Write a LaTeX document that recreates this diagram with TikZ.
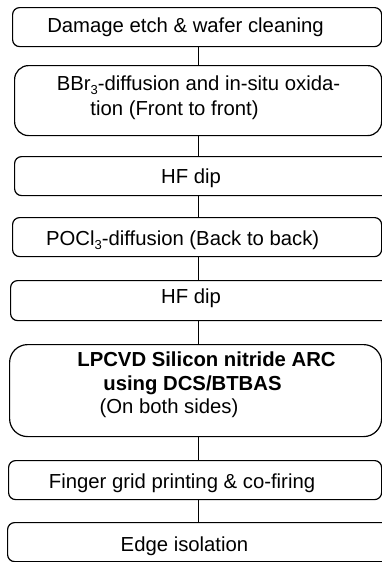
\documentclass[tikz,border=0pt]{standalone}
\usepackage{fontspec}
\setmainfont{Liberation Sans}
\newcommand{\lowidx}[1]{\raisebox{-0.22em}{\fontsize{13}{13}\selectfont #1}}
\tikzset{
  stepbox/.style={draw=black, line width=1.2pt, rectangle, rounded corners=7pt,
                  inner sep=0pt, anchor=north west},
  steptext/.style={inner sep=0pt, anchor=base, font=\fontsize{20.3}{24}\selectfont},
  link/.style={draw=black, line width=1.2pt}
}
\begin{document}
\begin{tikzpicture}[x=1pt, y=-1pt]
\useasboundingbox (0,0) rectangle (382,562);
\fill[white] (0,0) rectangle (382,562);
\clip (0,0) rectangle (382,562);

% process boxes
\node[stepbox, minimum width=369pt, minimum height=39pt] (b1) at (12,7) {};
\node[stepbox, rounded corners=14pt, minimum width=367pt, minimum height=70pt] (b2) at (14,65) {};
\node[stepbox, minimum width=378pt, minimum height=39pt] (b3) at (14,156) {};
\node[stepbox, minimum width=369pt, minimum height=39pt] (b4) at (12,217) {};
\node[stepbox, minimum width=382pt, minimum height=40pt] (b5) at (10,280) {};
\node[stepbox, rounded corners=18pt, minimum width=372pt, minimum height=92pt] (b6) at (9,344) {};
\node[stepbox, minimum width=373pt, minimum height=39pt] (b7) at (8,460) {};
\node[stepbox, minimum width=385pt, minimum height=39pt] (b8) at (7,522) {};

% labels
\node[steptext] (t1) at (185.5,32.5) {Damage etch \& wafer cleaning};
\node[steptext] (t2a) at (198.5,90) {BBr\lowidx{3}-diffusion and in-situ oxida-};
\node[steptext] (t2b) at (174.5,115) {tion (Front to front)};
\node[steptext] (t3) at (191,183) {HF dip};
\node[steptext] (t4) at (182.7,245) {POCl\lowidx{3}-diffusion (Back to back)};
\node[steptext] (t5) at (191,303) {HF dip};
\node[steptext, font=\fontsize{20.3}{24}\selectfont\bfseries] (t6a) at (206.5,366) {LPCVD Silicon nitride ARC};
\node[steptext, font=\fontsize{20.3}{24}\selectfont\bfseries] (t6b) at (192.5,390) {using DCS/BTBAS};
\node[steptext] (t6c) at (169,413) {(On both sides)};
\node[steptext] (t7) at (182,488) {Finger grid printing \& co-firing};
\node[steptext] (t8) at (184.5,551.5) {Edge isolation};

% connectors
\coordinate (c) at (198.5,0);
\draw[link] (b1.south -| c) -- (b2.north -| c);
\draw[link] (b2.south -| c) -- (b3.north -| c);
\draw[link] (b3.south -| c) -- (b4.north -| c);
\draw[link] (b4.south -| c) -- (b5.north -| c);
\draw[link] (b5.south -| c) -- (b6.north -| c);
\draw[link] (b6.south -| c) -- (b7.north -| c);
\draw[link] (b7.south -| c) -- (b8.north -| c);
\end{tikzpicture}
\end{document}
